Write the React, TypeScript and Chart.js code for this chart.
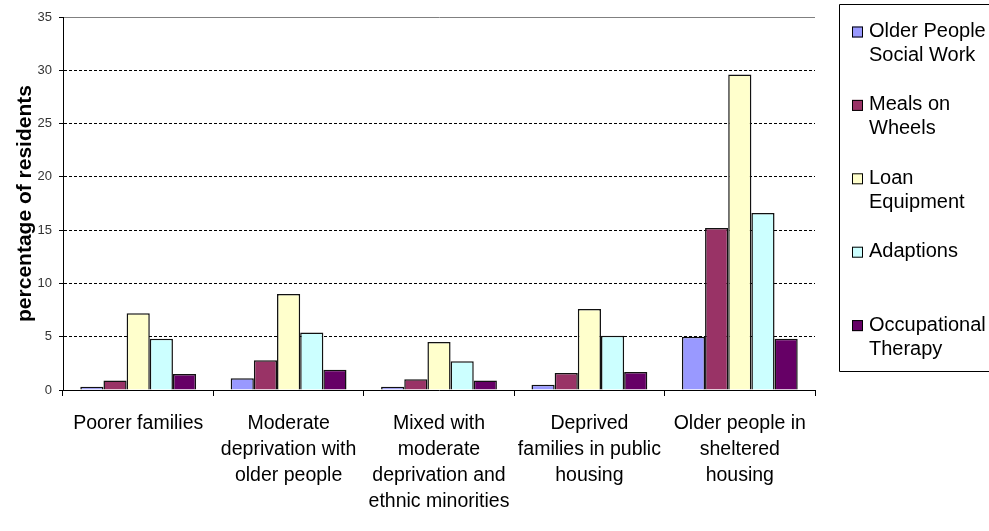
import React, { useEffect, useRef } from "react";
import { Chart, registerables } from "chart.js";

Chart.register(...registerables);

const categories: string[][] = [
  ["Poorer families"],
  ["Moderate", "deprivation with", "older people"],
  ["Mixed with", "moderate", "deprivation and", "ethnic minorities"],
  ["Deprived", "families in public", "housing"],
  ["Older people in", "sheltered", "housing"],
];

const olderPeopleSocialWork = [0.3, 1.1, 0.3, 0.5, 5.0];
const mealsOnWheels = [0.9, 2.8, 1.0, 1.6, 15.2];
const loanEquipment = [7.2, 9.0, 4.5, 7.6, 29.6];
const adaptions = [4.8, 5.4, 2.7, 5.1, 16.6];
const occupationalTherapy = [1.5, 1.9, 0.9, 1.7, 4.8];

const seriesNames: string[][] = [
  ["Older People", "Social Work"],
  ["Meals on", "Wheels"],
  ["Loan", "Equipment"],
  ["Adaptions"],
  ["Occupational", "Therapy"],
];
const seriesColors = ["#9999FF", "#993366", "#FFFFCC", "#CCFFFF", "#660066"];

const yTicks = [0, 5, 10, 15, 20, 25, 30, 35];

const FONT = "'Liberation Sans', Arial, sans-serif";

// Boxed legend on the right, with wrapped series names
const sideLegend = {
  id: "sideLegend",
  afterDraw(chart: Chart) {
    const ctx = chart.ctx;
    const left = 839.5;
    const top = 4.5;
    const bottom = 371.5;
    ctx.save();
    ctx.strokeStyle = "#000";
    ctx.lineWidth = 1;
    ctx.beginPath();
    ctx.moveTo(995, top);
    ctx.lineTo(left, top);
    ctx.lineTo(left, bottom);
    ctx.lineTo(995, bottom);
    ctx.stroke();

    ctx.font = `20px ${FONT}`;
    ctx.textBaseline = "middle";
    ctx.textAlign = "left";
    const slot = (bottom - top) / chart.data.datasets.length;
    chart.data.datasets.forEach((ds, i) => {
      const y0 = top + 27 + i * slot;
      ctx.fillStyle = ds.backgroundColor as string;
      ctx.fillRect(852, y0 - 5, 11, 11);
      ctx.strokeStyle = "#000";
      ctx.strokeRect(852.5, y0 - 4.5, 10, 10);
      ctx.fillStyle = "#000";
      seriesNames[i].forEach((line, j) => {
        ctx.fillText(line, 869, y0 + j * 24);
      });
    });
    ctx.restore();
  },
};

export default function App() {
  const canvasRef = useRef<HTMLCanvasElement | null>(null);

  useEffect(() => {
    if (!canvasRef.current) return;
    const values = [olderPeopleSocialWork, mealsOnWheels, loanEquipment, adaptions, occupationalTherapy];
    const chart = new Chart(canvasRef.current, {
      type: "bar",
      data: {
        labels: categories,
        datasets: values.map((data, i) => ({
          label: seriesNames[i].join(" "),
          data,
          backgroundColor: seriesColors[i],
          borderColor: "#111",
          borderWidth: 1.5,
          categoryPercentage: 0.77,
          barPercentage: 1.0,
        })),
      },
      options: {
        animation: false,
        responsive: false,
        maintainAspectRatio: false,
        layout: { padding: { top: 17, right: 174, bottom: 0, left: 0 } },
        plugins: {
          legend: { display: false },
          tooltip: { enabled: false },
        },
        scales: {
          x: {
            offset: true,
            grid: {
              offset: true,
              color: (c: any) => (c.index === categories.length ? "#808080" : "rgba(0,0,0,0)"),
              tickColor: "#000",
              tickLength: 6,
              lineWidth: 1,
            },
            border: { color: "#000", width: 1 },
            ticks: {
              color: "#000",
              font: { family: FONT, size: 19.5, lineHeight: 1.333 },
              padding: 15,
              maxRotation: 0,
              autoSkip: false,
            },
            afterFit: (s: any) => {
              s.height = 141;
            },
          },
          y: {
            min: 0,
            max: 35,
            afterBuildTicks: (s: any) => {
              s.ticks = yTicks.map((v) => ({ value: v }));
            },
            grid: {
              color: (c: any) => {
                const v = c.tick ? c.tick.value : -1;
                if (v === 0) return "rgba(0,0,0,0)";
                if (v === 35) return "#808080";
                return "#000";
              },
              tickColor: "#000",
              tickLength: 4,
              lineWidth: 1,
            },
            border: {
              color: "#000",
              width: 1,
              dash: (c: any) => (c.tick && c.tick.value === 35 ? [] : [3, 2]),
            },
            ticks: {
              color: "#333",
              font: { family: FONT, size: 13 },
              padding: 7,
            },
            title: {
              display: true,
              text: "percentage of residents",
              color: "#000",
              font: { family: FONT, size: 21, weight: "bold" },
              padding: { top: 13, bottom: 0 },
            },
            afterFit: (s: any) => {
              s.width = 63;
            },
          },
        },
      },
      plugins: [sideLegend],
    });
    return () => chart.destroy();
  }, []);

  return (
    <div style={{ position: "absolute", left: 0, top: 0, width: 989, height: 531, background: "#fff" }}>
      <canvas ref={canvasRef} width={989} height={531} style={{ display: "block" }} />
    </div>
  );
}
